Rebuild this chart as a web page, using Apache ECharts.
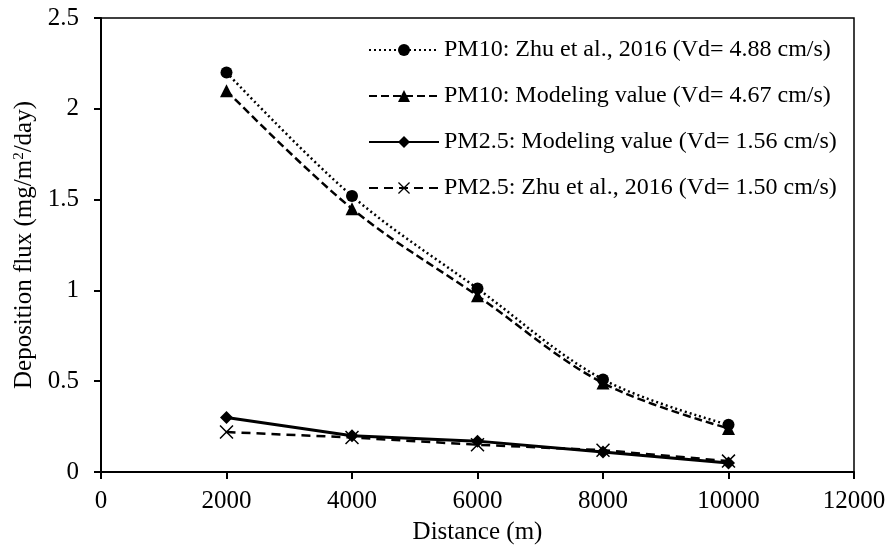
<!DOCTYPE html>
<html>
<head>
<meta charset="utf-8">
<script src="https://cdn.jsdelivr.net/npm/echarts@6/dist/echarts.min.js"></script>
<style>html,body{margin:0;padding:0;background:#fff}#c{width:891px;height:550px}</style>
</head>
<body>
<div id="c"></div>
<script>
var distances = [2000, 4000, 6000, 8000, 10000];
var pm10Zhu = [2.20, 1.52, 1.01, 0.51, 0.26];
var pm10Model = [2.10, 1.45, 0.97, 0.49, 0.24];
var pm25Model = [0.30, 0.20, 0.17, 0.11, 0.05];
var pm25Zhu = [0.22, 0.19, 0.15, 0.12, 0.06];
var seriesNames = [
  'PM10: Zhu et al., 2016 (Vd= 4.88 cm/s)',
  'PM10: Modeling value (Vd= 4.67 cm/s)',
  'PM2.5: Modeling value (Vd= 1.56 cm/s)',
  'PM2.5: Zhu et al., 2016 (Vd= 1.50 cm/s)'
];
var xTicks = [0, 2000, 4000, 6000, 8000, 10000, 12000];
var yTicks = [0, 0.5, 1, 1.5, 2, 2.5];

function pairs(ys) { return distances.map(function (d, i) { return [d, ys[i]]; }); }

var FONT = 'Liberation Serif';
var crossPath = 'path://M1.5,0 L10,8.5 L18.5,0 L20,1.5 L11.5,10 L20,18.5 L18.5,20 L10,11.5 L1.5,20 L0,18.5 L8.5,10 L0,1.5 Z';

var chart = echarts.init(document.getElementById('c'));
chart.setOption({
  animation: false,
  backgroundColor: '#fff',
  textStyle: { fontFamily: FONT, color: '#000' },
  grid: { left: 101, right: 37, top: 18, bottom: 73, show: true, borderColor: '#000', borderWidth: 1.5, containLabel: false },
  legend: {
    orient: 'vertical',
    left: 363,
    top: 33,
    itemWidth: 70,
    itemHeight: 15,
    itemGap: 22,
    textStyle: { fontFamily: FONT, fontSize: 24, color: '#000' },
    data: seriesNames
  },
  xAxis: {
    type: 'value',
    min: xTicks[0], max: xTicks[xTicks.length - 1], interval: 2000,
    name: 'Distance (m)', nameLocation: 'middle', nameGap: 48,
    nameTextStyle: { fontFamily: FONT, fontSize: 25, color: '#000' },
    axisLine: { show: true, lineStyle: { color: '#000', width: 2 } },
    axisTick: { show: true, length: 7, lineStyle: { color: '#000', width: 2 } },
    axisLabel: { fontFamily: FONT, fontSize: 25, color: '#000', margin: 17, formatter: function (v) { return String(v); } },
    splitLine: { show: false }
  },
  yAxis: {
    type: 'value',
    min: yTicks[0], max: yTicks[yTicks.length - 1], interval: 0.5,
    name: 'Deposition flux (mg/m{sup|2}/day)', nameLocation: 'middle', nameGap: 58,
    nameTextStyle: { fontFamily: FONT, fontSize: 25, color: '#000',
      rich: { sup: { fontFamily: FONT, fontSize: 15, color: '#000', verticalAlign: 'top', padding: [0, 0, 10, 0] } } },
    axisLine: { show: true, lineStyle: { color: '#000', width: 2 } },
    axisTick: { show: true, length: 7, lineStyle: { color: '#000', width: 2 } },
    axisLabel: { fontFamily: FONT, fontSize: 25, color: '#000', margin: 22, formatter: function (v) { return String(v); } },
    splitLine: { show: false }
  },
  series: [
    { name: seriesNames[0], type: 'line', data: pairs(pm10Zhu), smooth: 0.35,
      symbol: 'circle', symbolSize: 12, itemStyle: { color: '#000' },
      lineStyle: { color: '#000', width: 2.5, type: [2, 3] } },
    { name: seriesNames[1], type: 'line', data: pairs(pm10Model), smooth: 0.35,
      symbol: 'triangle', symbolSize: 13, itemStyle: { color: '#000' },
      lineStyle: { color: '#000', width: 2.5, type: [8, 4] } },
    { name: seriesNames[2], type: 'line', data: pairs(pm25Model),
      symbol: 'diamond', symbolSize: 13, itemStyle: { color: '#000' },
      lineStyle: { color: '#000', width: 3, type: 'solid' } },
    { name: seriesNames[3], type: 'line', data: pairs(pm25Zhu),
      symbol: crossPath, symbolSize: 14, itemStyle: { color: '#000' },
      lineStyle: { color: '#000', width: 2.5, type: [9, 6] } }
  ]
});
</script>
</body>
</html>
